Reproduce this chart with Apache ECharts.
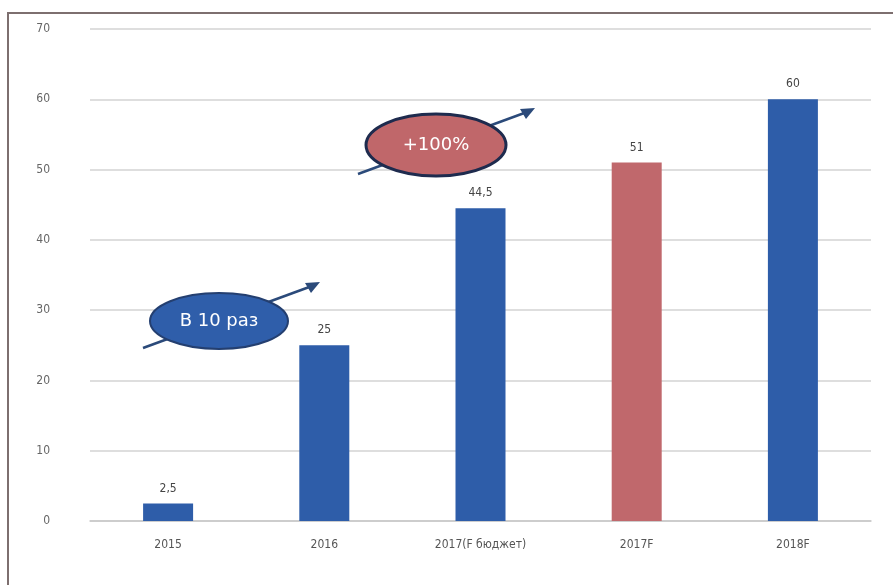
<!DOCTYPE html>
<html><head><meta charset="utf-8">
<script src="https://cdn.jsdelivr.net/npm/echarts@6/dist/echarts.min.js"></script>
<style>html,body{margin:0;padding:0;background:#fff}#c{width:893px;height:585px}</style>
</head><body><div id="c"></div>
<script>
const categories = ['2015', '2016', '2017(F бюджет)', '2017F', '2018F'];
const values = [2.5, 25, 44.5, 51, 60];
const barColors = ['#2E5DA9', '#2E5DA9', '#2E5DA9', '#C0686C', '#2E5DA9'];
const yTicks = [0, 10, 20, 30, 40, 50, 60, 70];

const chart = echarts.init(document.getElementById('c'), null, {renderer: 'canvas'});
chart.setOption({
  animation: false,
  backgroundColor: '#fff',
  grid: {left: 90, right: 22, top: 29, bottom: 64},
  xAxis: {
    type: 'category', data: categories,
    axisLine: {lineStyle: {color: '#c8c8c8', width: 1.5}},
    axisTick: {show: false},
    axisLabel: {color: '#555', fontSize: 12, fontFamily: 'DejaVu Sans Condensed', margin: 18}
  },
  yAxis: {
    type: 'value', min: 0, max: 70, interval: 10,
    axisLine: {show: false}, axisTick: {show: false},
    splitLine: {lineStyle: {color: '#d3d3d3', width: 1.5}},
    axisLabel: {color: '#666', fontSize: 12, fontFamily: 'DejaVu Sans Condensed', margin: 40,
      formatter: v => yTicks.includes(v) ? String(v) : ''}
  },
  series: [{
    type: 'bar', barWidth: 50,
    data: values.map((v, i) => ({value: v, itemStyle: {color: barColors[i]}})),
    label: {show: true, position: 'top', distance: 9, color: '#444', fontSize: 12,
      fontFamily: 'DejaVu Sans Condensed', formatter: p => String(p.value).replace('.', ',')}
  }],
  graphic: [
    {type: 'rect', shape: {x: 8, y: 13, width: 1000, height: 1000}, z: 100,
      style: {fill: 'none', stroke: '#7d6f6f', lineWidth: 2}},
    {type: 'line', shape: {x1: 143, y1: 348, x2: 312, y2: 286}, z: 50,
      style: {stroke: '#2B4A7A', lineWidth: 2.5}},
    {type: 'polygon', shape: {points: [[320, 282], [305, 283], [311, 293]]}, z: 50,
      style: {fill: '#2B4A7A'}},
    {type: 'ellipse', shape: {cx: 219, cy: 321, rx: 69, ry: 28}, z: 60,
      style: {fill: '#2F5EAA', stroke: '#243F70', lineWidth: 2}},
    {type: 'text', x: 219, y: 321, z: 61,
      style: {text: 'В 10 раз', fill: '#fff', fontSize: 18, fontFamily: 'DejaVu Sans',
        align: 'center', verticalAlign: 'middle'}},
    {type: 'line', shape: {x1: 358, y1: 174, x2: 527, y2: 112}, z: 50,
      style: {stroke: '#2B4A7A', lineWidth: 2.5}},
    {type: 'polygon', shape: {points: [[535, 108], [520, 109], [526, 119]]}, z: 50,
      style: {fill: '#2B4A7A'}},
    {type: 'ellipse', shape: {cx: 436, cy: 145, rx: 70, ry: 31}, z: 60,
      style: {fill: '#C0676A', stroke: '#1E2B4E', lineWidth: 3}},
    {type: 'text', x: 436, y: 145, z: 61,
      style: {text: '+100%', fill: '#fff', fontSize: 18, fontFamily: 'DejaVu Sans',
        align: 'center', verticalAlign: 'middle'}}
  ]
});
</script></body></html>
